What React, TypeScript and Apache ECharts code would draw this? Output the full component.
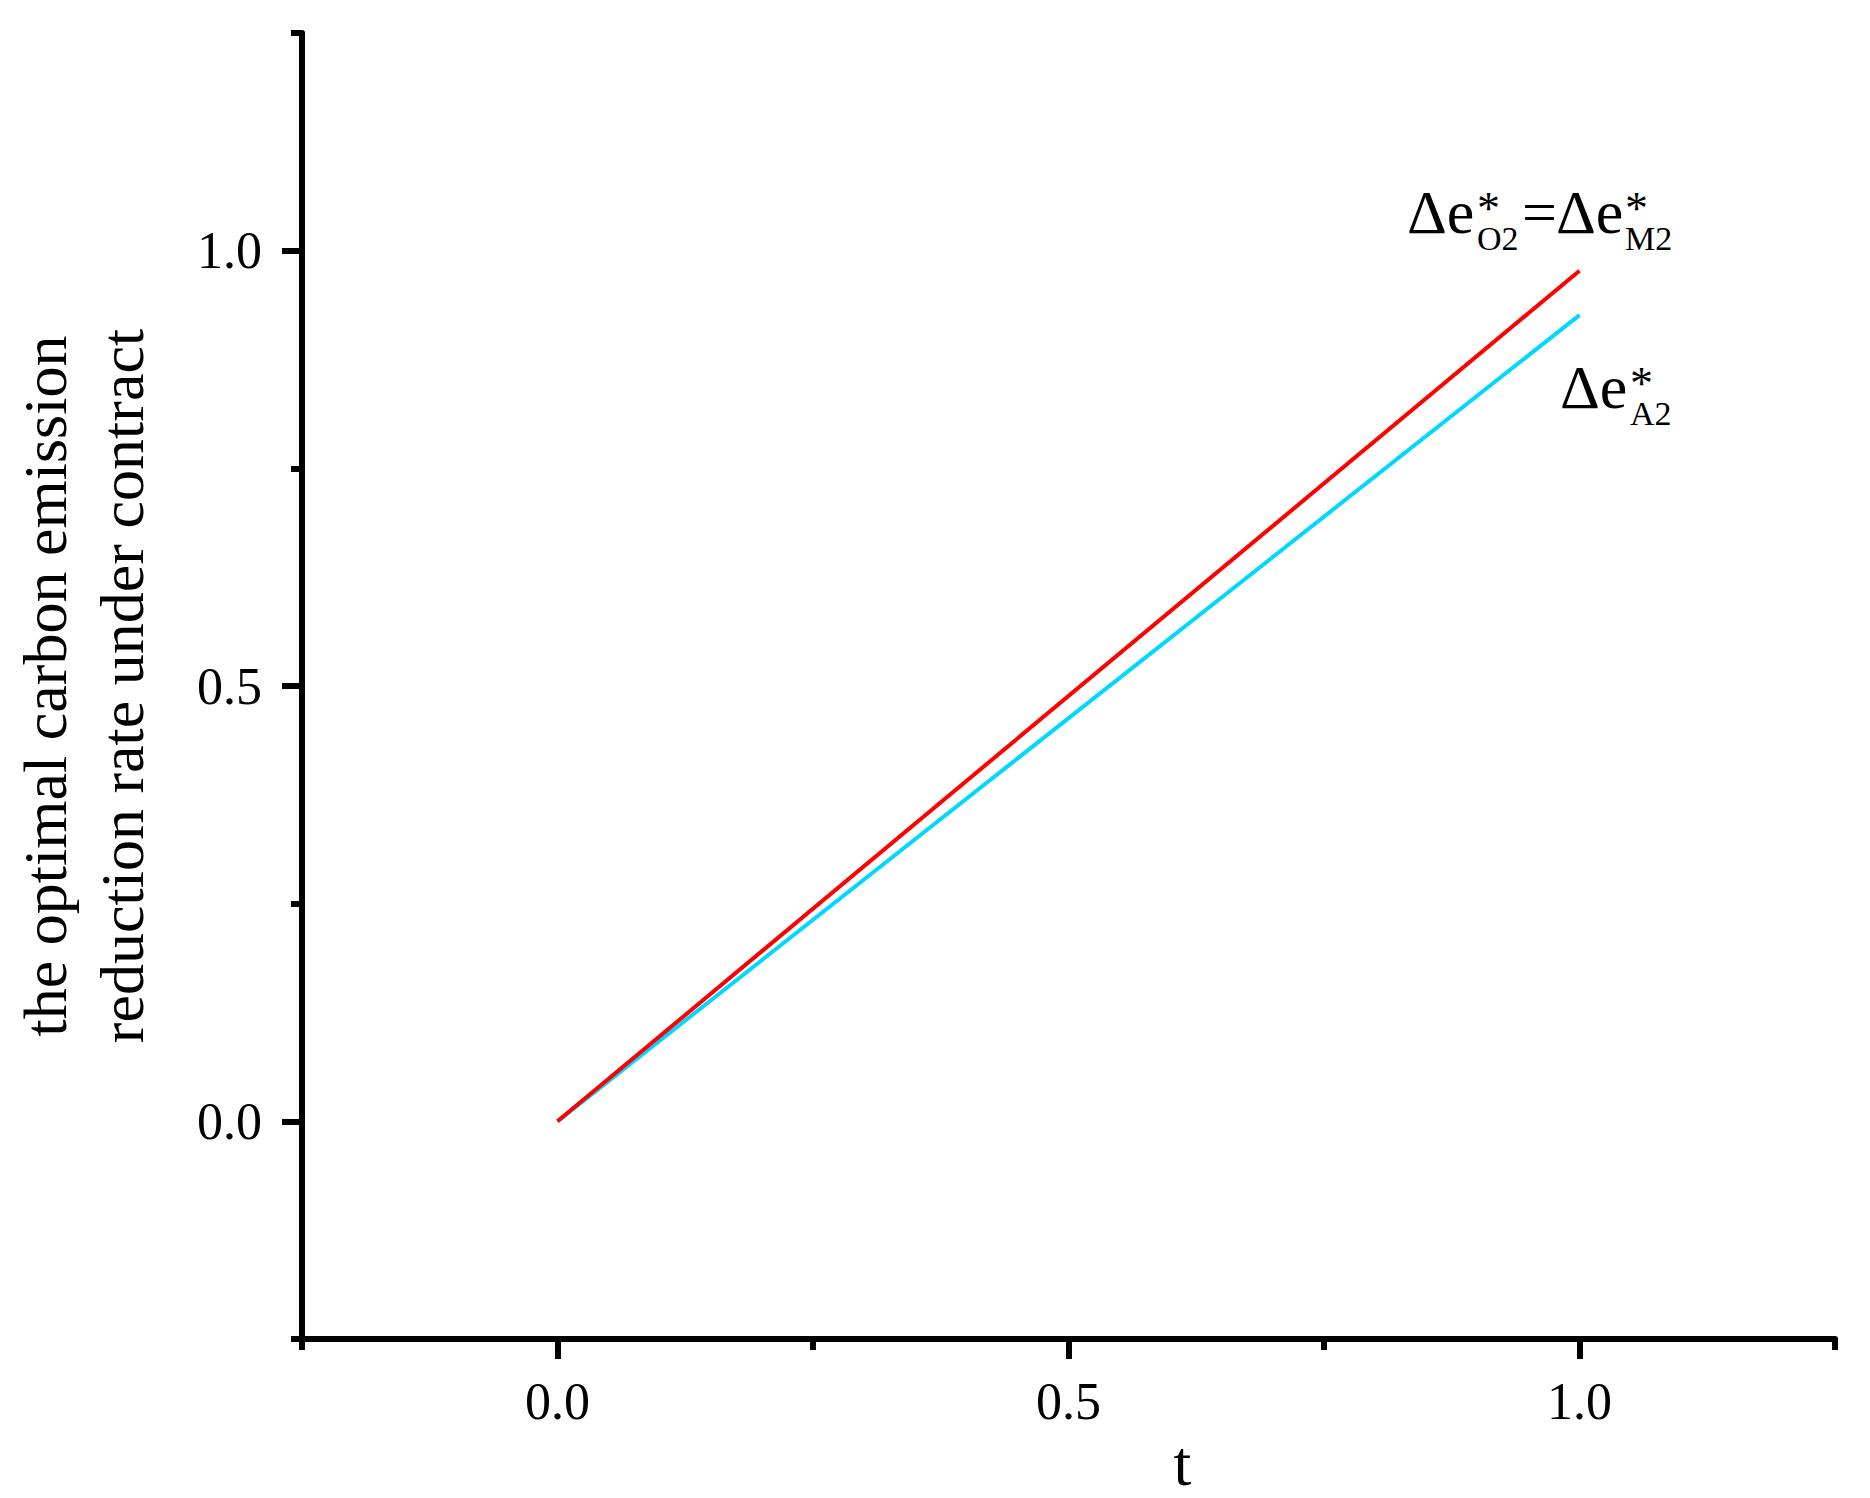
import React, { useEffect, useRef } from "react";
import * as echarts from "echarts";

// ---- data ----
const tValues = [0, 1];
const eO2M2Values = [0, 0.977]; // red: Δe*_O2 = Δe*_M2
const eA2Values = [0, 0.926]; // cyan: Δe*_A2
const majorTickValues = [0, 0.5, 1];
const minorTickValues = [-0.25, 0.25, 0.75, 1.25];
const axisMin = -0.25;
const axisMax = 1.25;
const yTitle = "the optimal carbon emission\nreduction rate under contract";
const xTitle = "t";

const SERIF = "Liberation Serif";

function fmt(v: number) {
  return v.toFixed(1);
}

const BIG = 62;
const SUB = 34;
const SUP = 46;

function mainText(dx: number, text: string) {
  return {
    type: "text",
    x: dx,
    y: -21,
    style: {
      text,
      fontFamily: SERIF,
      fontSize: BIG,
      lineHeight: 50,
      fill: "#000",
      textAlign: "left",
      textVerticalAlign: "middle",
    },
  };
}

// asterisk stacked over subscript, drawn as one rich text block
function scripts(dx: number, subText: string) {
  return {
    type: "text",
    x: dx,
    y: -10,
    style: {
      text: `{sp|*}\n{sb|${subText}}`,
      fill: "#000",
      textAlign: "left",
      textVerticalAlign: "middle",
      rich: {
        sp: { fontFamily: SERIF, fontSize: SUP, lineHeight: 30, fill: "#000" },
        sb: { fontFamily: SERIF, fontSize: SUB, lineHeight: 29, fill: "#000" },
      },
    },
  };
}

export default function App() {
  const ref = useRef<HTMLDivElement>(null);

  useEffect(() => {
    if (!ref.current) return;
    const chart = echarts.init(ref.current, undefined, { renderer: "svg" });

    const axisLineStyle = { color: "#000", width: 6 };

    const pairs = (xs: number[], ys: number[]) => xs.map((x, i) => [x, ys[i]]);

    chart.setOption({
      animation: false,
      backgroundColor: "#fff",
      grid: {
        left: 302,
        top: 33,
        right: 35,
        bottom: 159,
        containLabel: false,
        outerBoundsMode: "none",
      },
      xAxis: [
        {
          type: "value",
          min: axisMin,
          max: axisMax,
          position: "bottom",
          splitLine: { show: false },
          axisLine: { show: true, onZero: false, lineStyle: axisLineStyle },
          axisTick: {
            show: true,
            inside: false,
            length: 20,
            customValues: majorTickValues,
            lineStyle: axisLineStyle,
          },
          axisLabel: {
            show: true,
            customValues: majorTickValues,
            formatter: fmt,
            margin: 36,
            color: "#000",
            fontFamily: SERIF,
            fontSize: 52,
          },
          name: xTitle,
          nameLocation: "middle",
          nameGap: 52,
          nameTextStyle: {
            fontFamily: SERIF,
            fontSize: 64,
            color: "#000",
            padding: [0, 0, 0, 228],
          },
        },
        {
          type: "value",
          min: axisMin,
          max: axisMax,
          position: "bottom",
          splitLine: { show: false },
          axisLine: { show: false, onZero: false },
          axisTick: {
            show: true,
            inside: false,
            length: 11,
            customValues: minorTickValues,
            lineStyle: axisLineStyle,
          },
          axisLabel: { show: false },
        },
      ],
      yAxis: [
        {
          type: "value",
          min: axisMin,
          max: axisMax,
          position: "left",
          splitLine: { show: false },
          axisLine: { show: true, onZero: false, lineStyle: axisLineStyle },
          axisTick: {
            show: true,
            inside: false,
            length: 20,
            customValues: majorTickValues,
            lineStyle: axisLineStyle,
          },
          axisLabel: {
            show: true,
            customValues: majorTickValues,
            formatter: fmt,
            margin: 40,
            color: "#000",
            fontFamily: SERIF,
            fontSize: 52,
          },
          name: yTitle,
          nameLocation: "middle",
          nameRotate: 90,
          nameGap: 142,
          nameTextStyle: {
            fontFamily: SERIF,
            fontSize: 62,
            lineHeight: 77,
            color: "#000",
            align: "center",
          },
        },
        {
          type: "value",
          min: axisMin,
          max: axisMax,
          position: "left",
          splitLine: { show: false },
          axisLine: { show: false, onZero: false },
          axisTick: {
            show: true,
            inside: false,
            length: 11,
            customValues: minorTickValues,
            lineStyle: axisLineStyle,
          },
          axisLabel: { show: false },
        },
      ],
      series: [
        {
          name: "Δe*A2",
          type: "line",
          xAxisIndex: 0,
          yAxisIndex: 0,
          data: pairs(tValues, eA2Values),
          showSymbol: false,
          lineStyle: { color: "#00D8FF", width: 4 },
          z: 2,
        },
        {
          name: "Δe*O2=Δe*M2",
          type: "line",
          xAxisIndex: 0,
          yAxisIndex: 0,
          data: pairs(tValues, eO2M2Values),
          showSymbol: false,
          lineStyle: { color: "#FF0000", width: 4 },
          z: 3,
        },
      ],
      graphic: [
        {
          type: "group",
          x: 1407,
          y: 233,
          children: [
            mainText(0, "Δe"),
            scripts(70, "O2"),
            mainText(115, "="),
            mainText(149, "Δe"),
            scripts(218, "M2"),
          ],
        },
        {
          type: "group",
          x: 1560,
          y: 408,
          children: [mainText(0, "Δe"), scripts(70, "A2")],
        },
      ],
    });

    return () => chart.dispose();
  }, []);

  return (
    <div
      ref={ref}
      style={{
        position: "absolute",
        left: 0,
        top: 0,
        width: 1870,
        height: 1498,
        background: "#fff",
      }}
    />
  );
}
